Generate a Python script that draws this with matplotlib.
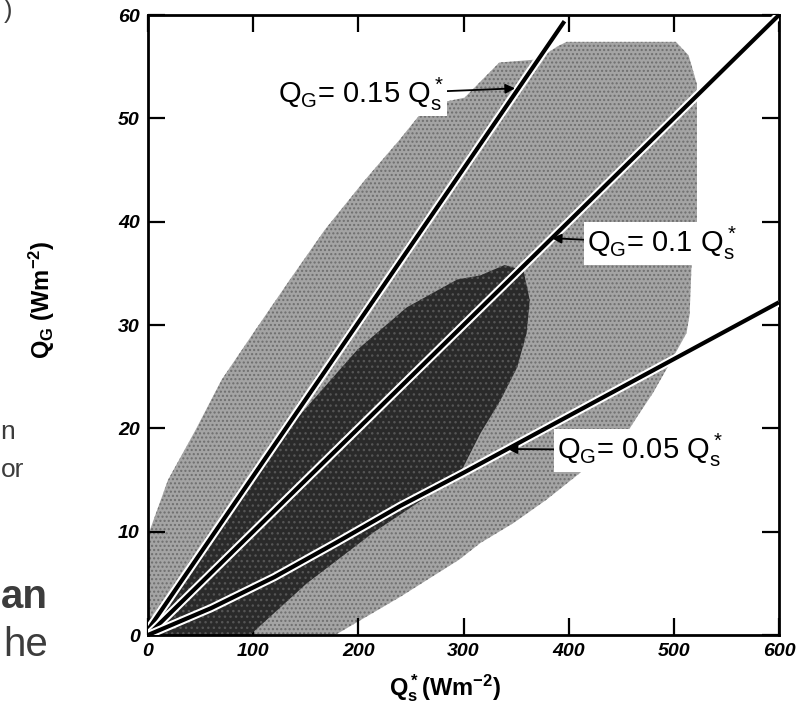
import numpy as np
import matplotlib.pyplot as plt
import matplotlib.patheffects as pe

plt.rcParams['font.family'] = ['Liberation Sans', 'DejaVu Sans']
plt.rcParams['mathtext.default'] = 'regular'
plt.rcParams['hatch.linewidth'] = 1.0

# outer (light grey) envelope, clockwise from the origin
outer_x = [0, 0, 2, 19, 45, 70, 102, 135, 168, 206, 239, 258, 268, 301, 334, 370, 390, 398,
           502, 514, 522, 522, 517, 515, 512, 494, 480, 465, 455, 430, 411, 379, 347, 316,
           296, 240, 178]
outer_y = [0, 9.5, 10.2, 15.0, 19.8, 24.7, 29.5, 34.4, 39.2, 44.0, 47.9, 50.3, 51.3, 52.0,
           55.4, 55.7, 57.0, 57.4, 57.4, 56.1, 53.3, 39.7, 36.2, 31.0, 29.2, 25.9, 23.4, 21.1,
           19.5, 17.5, 15.7, 13.1, 10.8, 8.9, 7.3, 3.7, 0]

# inner (dark) region
dark_x = [0, 0, 9, 56, 119, 142, 199, 246, 294, 316, 339, 357, 363, 360, 351, 335, 316,
          297, 261, 214, 151, 97]
dark_y = [0, 1.5, 2.2, 8.8, 17.8, 21.0, 27.6, 31.7, 34.4, 34.8, 35.8, 35.3, 32.4, 29.2,
          25.9, 22.7, 19.5, 15.7, 13.1, 9.9, 5.0, 0]

# reference lines Q_G = k Q*_s
l15_x = [0, 396]
l15_y = [0.5, 59.4]
l10_x = [0, 600]
l10_y = [0, 60]
l05_x = [0, 60, 120, 180, 240, 300, 400, 500, 600]
l05_y = [0, 2.6, 5.6, 9.0, 12.5, 15.7, 21.2, 26.7, 32.2]

fig = plt.figure(figsize=(7.99, 7.05), dpi=100)
ax = fig.add_axes([148/799, 70/705, 631/799, 620/705])

# halftone-ish shading like the scanned original
ax.fill(outer_x, outer_y, facecolor='#a4a4a4', edgecolor='#6e6e6e', hatch='....', lw=0, zorder=1)
ax.fill(dark_x, dark_y, facecolor='#2a2a2a', edgecolor='#555555', hatch='...', lw=0, zorder=2)

halo = [pe.Stroke(linewidth=6, foreground='white'), pe.Normal()]
for x, y in [(l15_x, l15_y), (l10_x, l10_y), (l05_x, l05_y)]:
    ax.plot(x, y, color='black', lw=3, path_effects=halo, solid_capstyle='butt', zorder=3)

lab_font = dict(fontsize=21, family=['Liberation Sans Narrow', 'Liberation Sans'])
box = dict(boxstyle='square,pad=0.1', fc='white', ec='none')
arr = dict(arrowstyle='-|>', color='black', lw=1.3, mutation_scale=14, shrinkA=0, shrinkB=0)
ax.annotate(r'Q$_G$= 0.15 Q$_s^*$', xy=(349, 52.9), xytext=(124, 52.3), ha='left', va='center',
            bbox=box, arrowprops=arr, zorder=5, **lab_font)
ax.annotate(r'Q$_G$= 0.1 Q$_s^*$', xy=(384, 38.4), xytext=(417, 37.9), ha='left', va='center',
            bbox=box, arrowprops=arr, zorder=5, **lab_font)
ax.annotate(r'Q$_G$= 0.05 Q$_s^*$', xy=(342, 18.0), xytext=(389, 17.9), ha='left', va='center',
            bbox=box, arrowprops=arr, zorder=5, **lab_font)

ax.set_xlim(0, 600)
ax.set_ylim(0, 60)
ax.set_xticks(range(0, 601, 100))
ax.set_yticks(range(0, 61, 10))
ax.tick_params(direction='in', length=12, width=1.6, top=True, right=True, pad=6, labelsize=14)
for lbl in ax.get_xticklabels() + ax.get_yticklabels():
    lbl.set_fontstyle('italic')
    lbl.set_fontweight('bold')
for sp in ax.spines.values():
    sp.set_linewidth(2)

ax.set_xlabel(r'Q$_s^*$(Wm$^{-2}$)', fontsize=17, fontweight='bold')
ax.xaxis.set_label_coords(0.47, -0.06)
ax.set_ylabel(r'Q$_G$ (Wm$^{-2}$)', fontsize=17, fontweight='bold')
ax.yaxis.set_label_coords(-0.145, 0.54)

# bits of slide text at the left edge
grey = '#3c3c3c'
fig.text(12/799, 1 - 11/705, ')', ha='right', va='center', fontsize=18, color=grey)
fig.text(15/799, 1 - 432/705, 'n', ha='right', va='center', fontsize=19, color=grey)
fig.text(1/799, 1 - 470/705, 'or', ha='left', va='center', fontsize=19, color=grey)
fig.text(48/799, 1 - 597/705, 'an', ha='right', va='center', fontsize=29, color=grey,
         fontweight='bold')
fig.text(48/799, 1 - 645/705, 'he', ha='right', va='center', fontsize=29, color=grey)

fig.savefig('out.png', dpi=100)
